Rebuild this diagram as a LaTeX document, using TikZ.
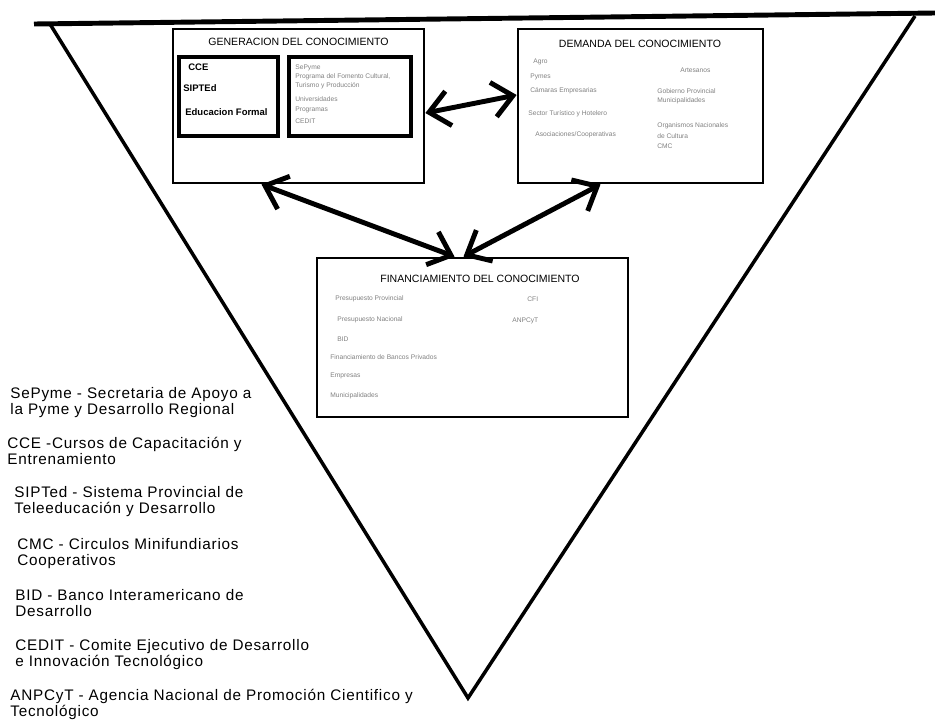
\documentclass[tikz,border=0pt]{standalone}
\usepackage{fontspec}
\setmainfont{Liberation Sans}
\newfontfamily\legendfont[LetterSpace=5]{Liberation Sans}
\usetikzlibrary{arrows.meta}
\tikzset{
  box/.style={draw, line width=1.6pt, inner sep=0pt},
  subbox/.style={draw, line width=2pt, inner sep=0pt},
  boxtitle/.style={inner sep=0pt, font=\fontsize{6}{7}\selectfont},
  keyword/.style={anchor=west, inner sep=0pt, font=\fontsize{5.4}{6}\selectfont\bfseries},
  entry/.style={anchor=west, inner sep=0pt, font=\fontsize{3.8}{4.5}\selectfont, text=black!50},
  legend/.style={anchor=west, align=left, inner sep=0pt, font=\legendfont\fontsize{8.7}{9.1}\selectfont},
  link/.style={line width=2.8pt, {Straight Barb[length=4mm,width=7mm]}-{Straight Barb[length=4mm,width=7mm]}}
}
\begin{document}
\begin{tikzpicture}[x=0.02cm, y=-0.02cm]
\useasboundingbox (0,0) rectangle (935,727);
% inverted triangle
\draw[line width=2pt] (50,24) -- (468,698) -- (915,16);
\draw[line width=2.8pt] (34,24) -- (935,13);

% generation box
\node[box, minimum width=5.02cm, minimum height=3.08cm] (gen) at (298.5,106) {};
\node[boxtitle] (gentitle) at (298.5,42) {GENERACION DEL CONOCIMIENTO};
\node[subbox, minimum width=1.98cm, minimum height=1.58cm] (genleft) at (228.5,96.5) {};
\node[subbox, minimum width=2.44cm, minimum height=1.58cm] (genright) at (350,96.5) {};
\node[keyword] (cce) at (188,67) {CCE};
\node[keyword] (sipted) at (183,88) {SIPTEd};
\node[keyword] (edu) at (185,112) {Educacion Formal};
\node[entry] (g1) at (295,68) {SePyme};
\node[entry] (g2) at (295,77) {Programa del Fomento Cultural,};
\node[entry] (g3) at (295,86) {Turismo y Producción};
\node[entry] (g4) at (295,99) {Universidades};
\node[entry] (g5) at (295,110) {Programas};
\node[entry] (g6) at (295,121) {CEDIT};

% demand box
\node[box, minimum width=4.9cm, minimum height=3.08cm] (dem) at (640.5,106) {};
\node[boxtitle] (demtitle) at (640,44) {DEMANDA DEL CONOCIMIENTO};
\node[entry] (d1) at (533,62) {Agro};
\node[entry] (d2) at (530,77) {Pymes};
\node[entry] (d3) at (530,91) {Cámaras Empresarias};
\node[entry] (d4) at (528,114) {Sector Turístico y Hotelero};
\node[entry] (d5) at (535,135) {Asociaciones/Cooperativas};
\node[entry] (d6) at (680,70) {Artesanos};
\node[entry] (d7) at (657,91) {Gobierno Provincial};
\node[entry] (d8) at (657,101) {Municipalidades};
\node[entry] (d9) at (657,126) {Organismos Nacionales};
\node[entry] (d10) at (657,136) {de Cultura};
\node[entry] (d11) at (657,146) {CMC};

% financing box
\node[box, minimum width=6.22cm, minimum height=3.18cm] (fin) at (472.5,337.5) {};
\node[boxtitle] (fintitle) at (480,279) {FINANCIAMIENTO DEL CONOCIMIENTO};
\node[entry] (f1) at (335,299) {Presupuesto Provincial};
\node[entry] (f2) at (337,320) {Presupuesto Nacional};
\node[entry] (f3) at (337,339) {BID};
\node[entry] (f4) at (330,357) {Financiamiento de Bancos Privados};
\node[entry] (f5) at (330,376) {Empresas};
\node[entry] (f6) at (330,396) {Municipalidades};
\node[entry] (f7) at (527,299) {CFI};
\node[entry] (f8) at (512,321) {ANPCyT};

% links
\draw[link] ([yshift=-0.14cm]gen.east) -- ([yshift=0.22cm]dem.west);
\draw[link] ([xshift=-0.74cm]gen.south) -- ([xshift=-0.36cm]fin.north);
\draw[link] ([xshift=-0.8cm]dem.south) -- ([xshift=-0.18cm]fin.north);

% legend
\node[legend] (sepyme) at (10,402.5) {SePyme - Secretaria de Apoyo a\\la Pyme y Desarrollo Regional};
\node[legend] (cceleg) at (7,451) {CCE -Cursos de Capacitación y\\Entrenamiento};
\node[legend] (siptedleg) at (14,502) {SIPTed - Sistema Provincial de\\Teleeducación y Desarrollo};
\node[legend] (cmcleg) at (17,554) {CMC - Circulos Minifundiarios\\Cooperativos};
\node[legend] (bidleg) at (15,603.5) {BID - Banco Interamericano de\\Desarrollo};
\node[legend] (ceditleg) at (15,655) {CEDIT - Comite Ejecutivo de Desarrollo\\e Innovación Tecnológico};
\node[legend] (anpcytleg) at (10,704.5) {ANPCyT - Agencia Nacional de Promoción Cientifico y\\Tecnológico};
\end{tikzpicture}
\end{document}
